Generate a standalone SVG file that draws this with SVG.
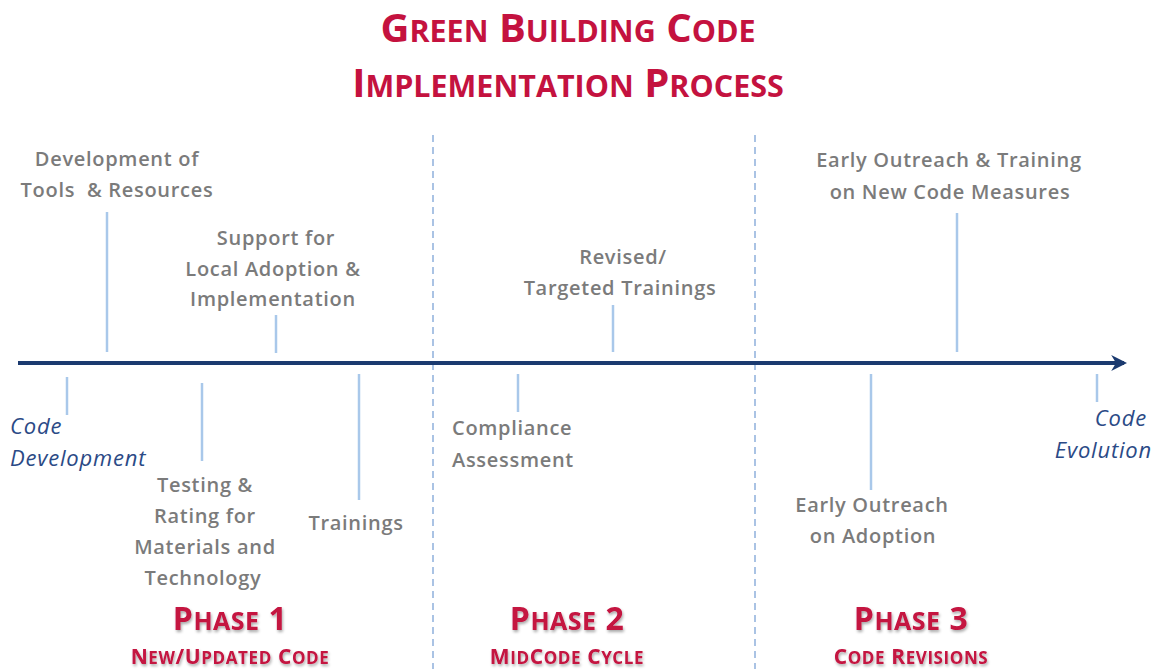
<svg xmlns="http://www.w3.org/2000/svg" width="1156" height="669" viewBox="0 0 1156 669">
<style>
.t{font-family:"Open Sans","Liberation Sans",sans-serif;font-weight:700;fill:#c4123f}
.lbl{font-family:"Open Sans","Liberation Sans",sans-serif;font-weight:600;font-size:20px;letter-spacing:0.7px;fill:#7b7b7b;text-anchor:middle}
.lbl.l{text-anchor:start}
.it{font-family:"Open Sans","Liberation Sans",sans-serif;font-style:italic;font-size:22px;letter-spacing:0.8px;fill:#2b4a86}
.it.r{text-anchor:end}
.tick{stroke:#a9c8ea;stroke-width:2.5}
.div{stroke:#8fb0dc;stroke-width:1.5;stroke-dasharray:7 5}
.ph{font-size:32px;text-anchor:middle;letter-spacing:0.5px}
.sub{font-size:21px;text-anchor:middle;letter-spacing:0.6px}
</style>
<defs>
<marker id="ah" viewBox="0 0 10 10" refX="8" refY="5" markerWidth="4" markerHeight="4" orient="auto" markerUnits="strokeWidth"><path d="M0,0 L10,5 L0,10 L3,5 z" fill="#1b3a6f"/></marker>
<filter id="sh" x="-10%" y="-20%" width="120%" height="150%"><feGaussianBlur in="SourceAlpha" stdDeviation="1.5"/><feOffset dx="1" dy="2"/><feComponentTransfer><feFuncA type="linear" slope="0.35"/></feComponentTransfer><feMerge><feMergeNode/><feMergeNode in="SourceGraphic"/></feMerge></filter>
</defs>
<rect width="1156" height="669" fill="#fff"/>
<g id="title" class="t" text-anchor="middle">
<text x="568" y="42" font-size="40">G<tspan font-size="30.5">REEN</tspan> B<tspan font-size="30.5">UILDING</tspan> C<tspan font-size="30.5">ODE</tspan></text>
<text x="568" y="97" font-size="40">I<tspan font-size="30.5">MPLEMENTATION</tspan> P<tspan font-size="30.5">ROCESS</tspan></text>
</g>
<g id="dividers">
<line class="div" x1="433" y1="135" x2="433" y2="669"/>
<line class="div" x1="755" y1="135" x2="755" y2="669"/>
</g>
<g id="connectors">
<line x1="18" y1="363" x2="1124" y2="363" stroke="#1b3a6f" stroke-width="4" marker-end="url(#ah)"/>
<line class="tick" x1="107" y1="212" x2="107" y2="352"/>
<line class="tick" x1="276" y1="315" x2="276" y2="353"/>
<line class="tick" x1="67" y1="377" x2="67" y2="415"/>
<line class="tick" x1="202" y1="383" x2="202" y2="461"/>
<line class="tick" x1="359" y1="374" x2="359" y2="500"/>
<line class="tick" x1="613" y1="305" x2="613" y2="352"/>
<line class="tick" x1="518" y1="374" x2="518" y2="412"/>
<line class="tick" x1="957" y1="213" x2="957" y2="352"/>
<line class="tick" x1="871" y1="374" x2="871" y2="490"/>
<line class="tick" x1="1097" y1="374" x2="1097" y2="402"/>
</g>
<g id="n-dev-tools"><text class="lbl" x="117" y="166">Development of</text><text class="lbl" x="117" y="197">Tools&#160; &amp; Resources</text></g>
<g id="n-support"><text class="lbl" x="276" y="245">Support for</text><text class="lbl" x="273" y="276">Local Adoption &amp;</text><text class="lbl" x="273" y="306">Implementation</text></g>
<g id="n-code-dev"><text class="it" x="10" y="434">Code</text><text class="it" x="10" y="466">Development</text></g>
<g id="n-testing"><text class="lbl" x="205" y="492">Testing &amp;</text><text class="lbl" x="205" y="523">Rating for</text><text class="lbl" x="205" y="554">Materials and</text><text class="lbl" x="203" y="585">Technology</text></g>
<g id="n-trainings"><text class="lbl" x="356" y="530">Trainings</text></g>
<g id="n-revised"><text class="lbl" x="623" y="264">Revised/</text><text class="lbl" x="620" y="295">Targeted Trainings</text></g>
<g id="n-compliance"><text class="lbl l" x="452" y="435">Compliance</text><text class="lbl l" x="452" y="467">Assessment</text></g>
<g id="n-early-training"><text class="lbl" x="949" y="167">Early Outreach &amp; Training</text><text class="lbl" x="950" y="199">on New Code Measures</text></g>
<g id="n-early-adoption"><text class="lbl" x="872" y="512">Early Outreach</text><text class="lbl" x="873" y="543">on Adoption</text></g>
<g id="n-code-evo"><text class="it r" x="1147" y="426">Code</text><text class="it r" x="1152" y="458">Evolution</text></g>
<g id="phase1" class="t" filter="url(#sh)"><text class="ph" x="230" y="630">P<tspan font-size="25">HASE</tspan> 1</text><text class="sub" x="230" y="664">N<tspan font-size="17">EW</tspan>/U<tspan font-size="17">PDATED</tspan> C<tspan font-size="17">ODE</tspan></text></g>
<g id="phase2" class="t" filter="url(#sh)"><text class="ph" x="567" y="630">P<tspan font-size="25">HASE</tspan> 2</text><text class="sub" x="567" y="664">M<tspan font-size="17">ID</tspan>C<tspan font-size="17">ODE</tspan> C<tspan font-size="17">YCLE</tspan></text></g>
<g id="phase3" class="t" filter="url(#sh)"><text class="ph" x="911" y="630">P<tspan font-size="25">HASE</tspan> 3</text><text class="sub" x="911" y="664">C<tspan font-size="17">ODE</tspan> R<tspan font-size="17">EVISIONS</tspan></text></g>
</svg>
